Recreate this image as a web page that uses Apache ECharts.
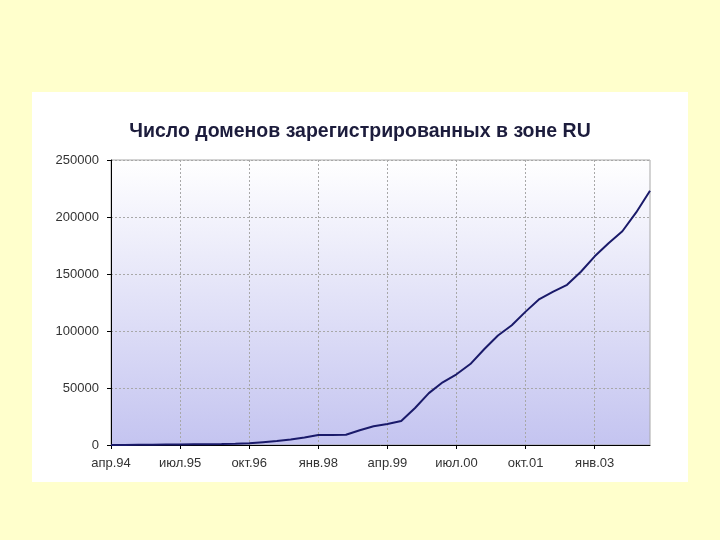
<!DOCTYPE html>
<html>
<head>
<meta charset="utf-8">
<script src="https://cdn.jsdelivr.net/npm/echarts@6/dist/echarts.min.js"></script>
<style>
html,body{margin:0;padding:0;background:#ffffcc;}
#c{width:720px;height:540px;}
</style>
</head>
<body>
<div id="c"></div>
<script>
const titleText = 'Число доменов зарегистрированных в зоне RU';
const categories = [
 'апр.94','июл.94','окт.94','янв.95','апр.95','июл.95','окт.95','янв.96','апр.96','июл.96',
 'окт.96','янв.97','апр.97','июл.97','окт.97','янв.98','апр.98','июл.98','окт.98','янв.99',
 'апр.99','июл.99','окт.99','янв.00','апр.00','июл.00','окт.00','янв.01','апр.01','июл.01',
 'окт.01','янв.02','апр.02','июл.02','окт.02','янв.03','апр.03','июл.03','окт.03','янв.04'
];
const domains = [
 0,100,200,300,400,500,600,700,800,1000,
 1500,2500,3500,4800,6500,8800,8800,9000,13000,16500,
 18500,21000,32500,45500,55000,62000,71000,84000,96000,105000,
 117000,128000,134500,140500,152000,165500,177000,187500,204000,223000
];
const yMin = 0, yMax = 250000, yStep = 50000;
const font = 'Liberation Sans, Arial, sans-serif';

const chart = echarts.init(document.getElementById('c'));
chart.setOption({
  backgroundColor: '#ffffcc',
  animation: false,
  graphic: [{
    type: 'rect', z: -10,
    shape: {x: 32, y: 92, width: 656, height: 390},
    style: {fill: '#ffffff'}
  }],
  title: {
    text: titleText, left: 'center', top: 117,
    textStyle: {fontFamily: font, fontSize: 19.5, fontWeight: 'bold', color: '#1c1c3c'}
  },
  grid: {
    left: 111, right: 70, top: 160, bottom: 95, show: true,
    borderColor: '#a8a8a8', borderWidth: 1,
    backgroundColor: {type: 'linear', x: 0, y: 0, x2: 0, y2: 1,
      colorStops: [{offset: 0, color: '#ffffff'}, {offset: 1, color: '#c4c4f0'}]}
  },
  xAxis: {
    type: 'category', data: categories, boundaryGap: false,
    axisLine: {lineStyle: {color: '#000', width: 1}},
    axisTick: {interval: 4, length: 4, lineStyle: {color: '#000'}},
    axisLabel: {interval: 4, color: '#333', fontSize: 13, margin: 12, fontFamily: font},
    splitLine: {show: true, interval: 4, lineStyle: {color: '#a8a8a8', type: [2, 2], width: 1}}
  },
  yAxis: {
    type: 'value', min: yMin, max: yMax, interval: yStep,
    axisLine: {show: true, lineStyle: {color: '#000', width: 1}},
    axisTick: {show: true, length: 4, lineStyle: {color: '#000'}},
    axisLabel: {color: '#333', fontSize: 13, margin: 12, fontFamily: font, formatter: v => String(v)},
    splitLine: {show: true, lineStyle: {color: '#a8a8a8', type: [2, 2], width: 1}}
  },
  series: [{
    type: 'line', data: domains, symbol: 'none', smooth: false,
    lineStyle: {color: '#1a1a6a', width: 2}
  }]
});
</script>
</body>
</html>
